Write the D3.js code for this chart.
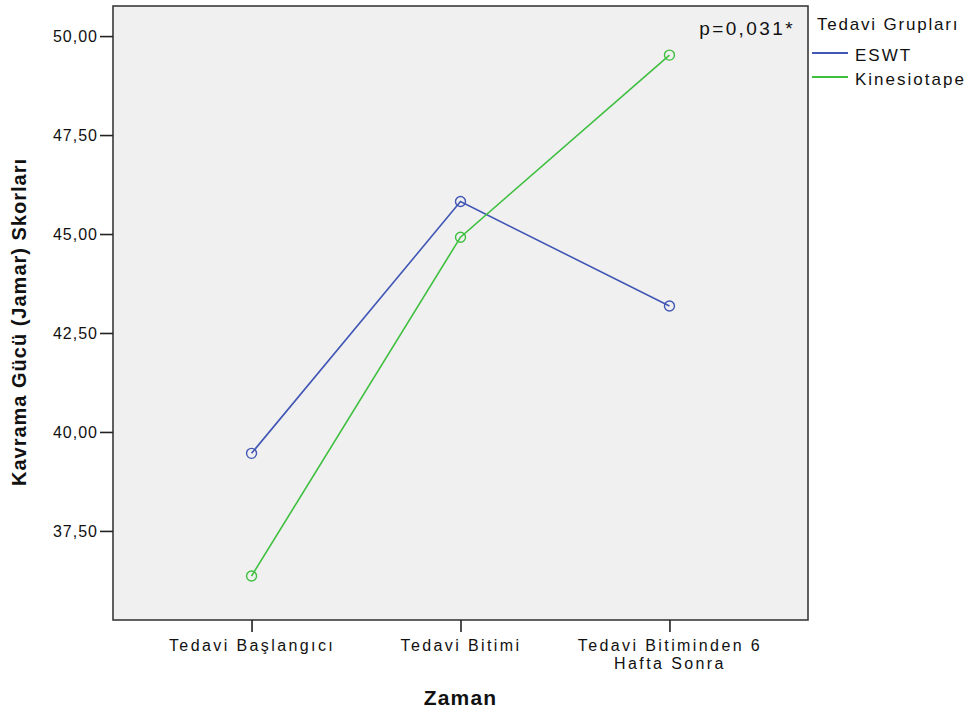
<!DOCTYPE html>
<html>
<head>
<meta charset="utf-8">
<script src="https://cdn.jsdelivr.net/npm/d3@7"></script>
<style>
  html, body { margin: 0; padding: 0; background: #fff; }
  svg text { font-family: "Liberation Sans", Arial, sans-serif; fill: #111; }
</style>
</head>
<body>
<svg id="chart" width="976" height="715"></svg>
<script>
// Estimated marginal means of grip strength by time point and treatment group
const timePoints = ["Tedavi Başlangıcı", "Tedavi Bitimi", "Tedavi Bitiminden 6\nHafta Sonra"];
const groups = ["ESWT", "Kinesiotape"];
const eswtValues = [39.46, 45.82, 43.18];
const kinesiotapeValues = [36.36, 44.92, 49.52];
const yTicks = [37.5, 40, 42.5, 45, 47.5, 50];
const groupColors = ["#4257b5", "#3fbf3f"];

const svg = d3.select("#chart");
const frame = { left: 113, top: 6, right: 808, bottom: 620 };

const x = d3.scalePoint()
  .domain(timePoints)
  .range([frame.left, frame.right])
  .padding(0.663);

const y = d3.scaleLinear()
  .domain([35.25, 50.76])
  .range([frame.bottom, frame.top]);

// plot background
svg.append("rect")
  .attr("x", frame.left).attr("y", frame.top)
  .attr("width", frame.right - frame.left)
  .attr("height", frame.bottom - frame.top)
  .attr("fill", "#f0f0f0")
  .attr("stroke", "#3a3a3a")
  .attr("stroke-width", 1.6);

// y axis
const yAxis = svg.append("g")
  .attr("transform", `translate(${frame.left},0)`)
  .call(d3.axisLeft(y).tickValues(yTicks).tickSize(13).tickPadding(2)
    .tickFormat(d => d3.format(".2f")(d).replace(".", ",")));
yAxis.select(".domain").remove();
yAxis.selectAll(".tick line").attr("stroke", "#222").attr("stroke-width", 1.6);
yAxis.selectAll(".tick text")
  .attr("fill", "#222")
  .style("font-size", "16px")
  .style("letter-spacing", "1px")
  .attr("dy", "0.36em");

// x axis
const xAxis = svg.append("g")
  .attr("transform", `translate(0,${frame.bottom})`)
  .call(d3.axisBottom(x).tickSize(12).tickPadding(5).tickFormat(""));
xAxis.select(".domain").remove();
xAxis.selectAll(".tick line").attr("stroke", "#222").attr("stroke-width", 1.6);
xAxis.selectAll(".tick").each(function(d) {
  const lines = d.split("\n");
  const t = d3.select(this).append("text")
    .attr("text-anchor", "middle")
    .attr("fill", "#222")
    .style("font-size", "16px")
    .style("letter-spacing", "2.4px");
  lines.forEach((ln, i) => {
    t.append("tspan").attr("x", 0).attr("y", 31 + i * 18).text(ln);
  });
});

// axis titles
svg.append("text")
  .attr("transform", `translate(26,${(frame.top + frame.bottom) / 2 + 9}) rotate(-90)`)
  .attr("text-anchor", "middle")
  .style("font-size", "20px")
  .style("font-weight", "bold")
  .style("letter-spacing", "1px")
  .text("Kavrama Gücü (Jamar) Skorları");

svg.append("text")
  .attr("x", x(timePoints[1]))
  .attr("y", 705)
  .attr("text-anchor", "middle")
  .style("font-size", "21px")
  .style("font-weight", "bold")
  .style("letter-spacing", "1.2px")
  .text("Zaman");

// series
const series = [
  { name: groups[0], values: eswtValues, color: groupColors[0] },
  { name: groups[1], values: kinesiotapeValues, color: groupColors[1] }
];
const line = d3.line().x((d, i) => x(timePoints[i])).y(d => y(d));

const gSeries = svg.selectAll(".series").data(series).join("g").attr("class", "series");
gSeries.append("path")
  .attr("d", d => line(d.values))
  .attr("fill", "none")
  .attr("stroke", d => d.color)
  .attr("stroke-width", 1.6);
gSeries.selectAll("circle")
  .data(d => d.values.map((v, i) => ({ v, i, color: d.color })))
  .join("circle")
  .attr("cx", d => x(timePoints[d.i]))
  .attr("cy", d => y(d.v))
  .attr("r", 5)
  .attr("fill", "none")
  .attr("stroke", d => d.color)
  .attr("stroke-width", 1.4);

// annotation
svg.append("text")
  .attr("x", 795).attr("y", 35)
  .attr("text-anchor", "end")
  .attr("fill", "#222")
  .style("font-size", "19px")
  .style("letter-spacing", "2.4px")
  .text("p=0,031*");

// legend
const legend = svg.append("g");
legend.append("text")
  .attr("x", 817).attr("y", 30)
  .attr("fill", "#222")
  .style("font-size", "17px")
  .style("letter-spacing", "1.8px")
  .text("Tedavi Grupları");
series.forEach((s, i) => {
  const ly = 53 + i * 24;
  legend.append("line")
    .attr("x1", 812).attr("x2", 848)
    .attr("y1", ly).attr("y2", ly)
    .attr("stroke", s.color).attr("stroke-width", 2);
  legend.append("text")
    .attr("x", 855).attr("y", ly + 8)
    .attr("fill", "#222")
    .style("font-size", "17px")
    .style("letter-spacing", "2px")
    .text(s.name);
});
</script>
</body>
</html>
